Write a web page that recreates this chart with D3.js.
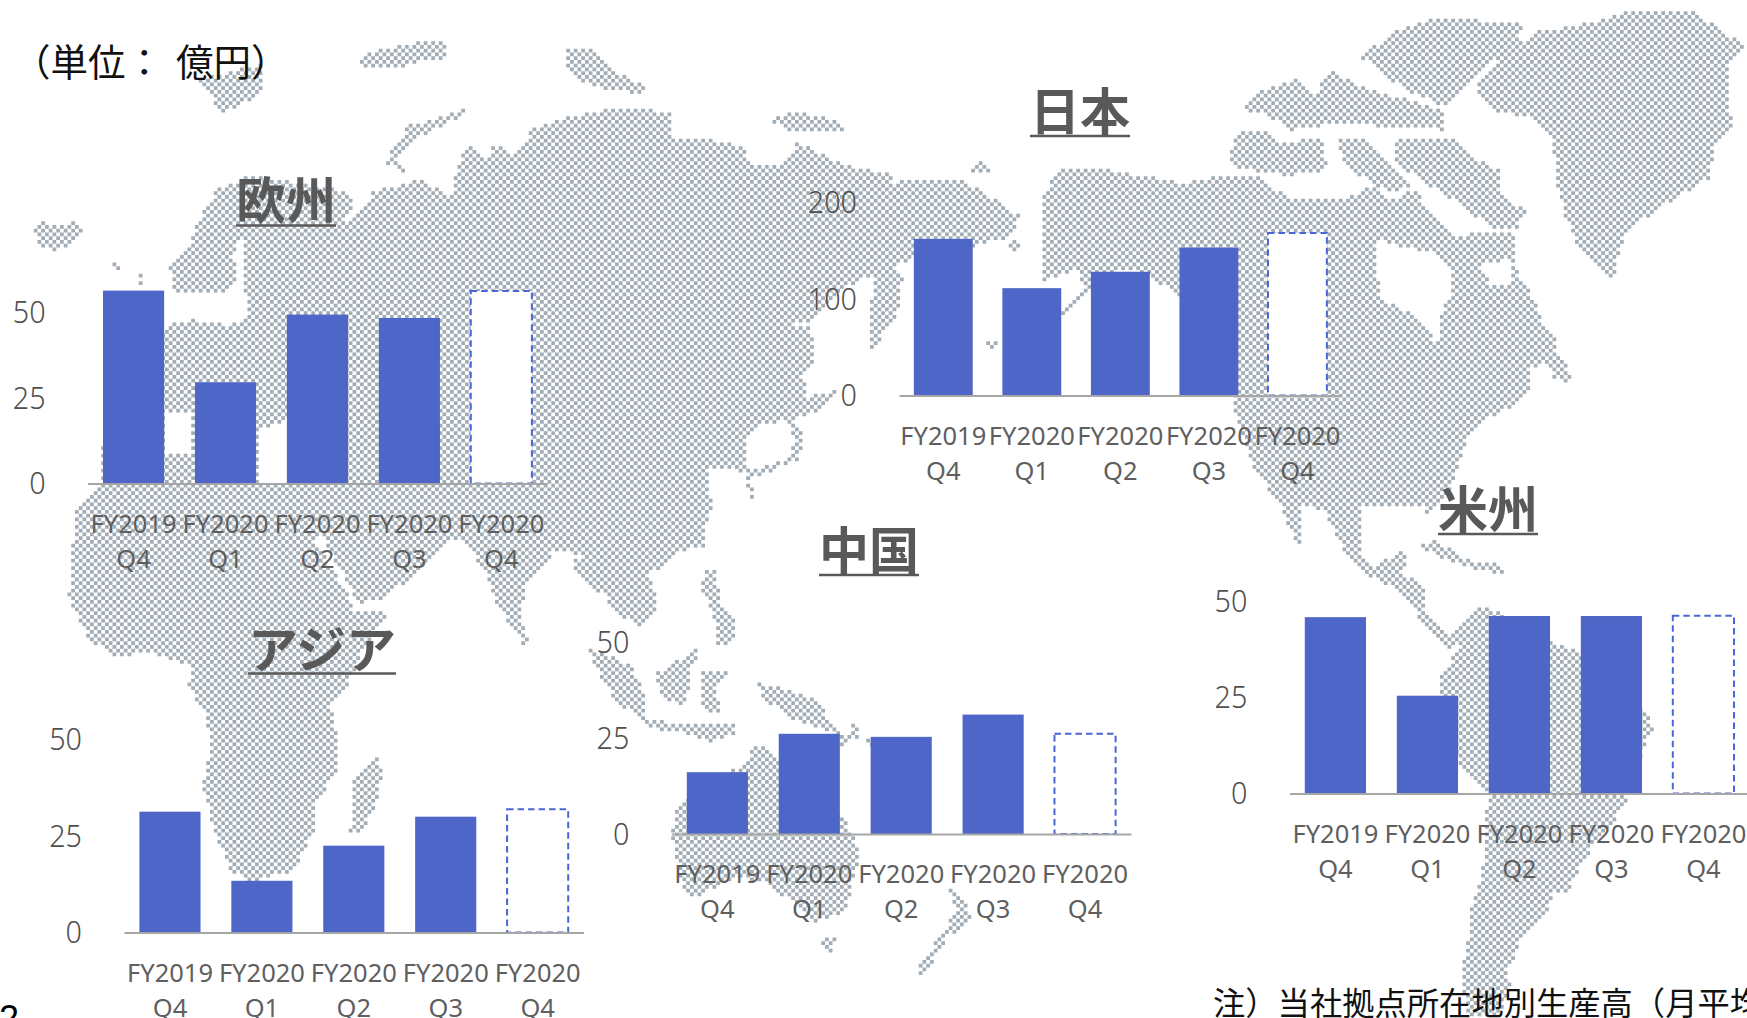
<!DOCTYPE html>
<html lang="ja">
<head>
<meta charset="utf-8">
<title>地域別生産高</title>
<script src="https://d3js.org/d3.v7.min.js"></script>
<style>
  html, body { margin: 0; padding: 0; background: #fff; overflow: hidden; }
  svg { display: block; }
  .jp { font-family: "Noto Sans CJK JP", sans-serif; }
  .axis text { font-family: "Noto Sans", sans-serif; font-weight: 400; fill: #5f5f5f; }
  .axis path { stroke: #a6a6a6; stroke-width: 2px; }
  .title { font-family: "Noto Sans CJK JP", sans-serif; font-weight: 700; fill: #595959; }
</style>
</head>
<body>
<div id="chart"></div>
<script>
// Quarters, same on every panel
var quarters = ["FY2019 Q4", "FY2020 Q1", "FY2020 Q2", "FY2020 Q3", "FY2020 Q4"];

// Values in 億円. The last one of each is the dashed bar.
var europeValues = [56.4, 29.6, 49.4, 48.4, 56.3];
var japanValues = [162, 111, 128, 153, 168];
var asiaValues = [31.3, 13.4, 22.5, 30, 31.9];
var chinaValues = [16.1, 26.1, 25.3, 31.1, 26.1];
var americasValues = [45.8, 25.4, 46.1, 46.1, 46.2];

var smallTicks = [0, 25, 50];
var japanTicks = [0, 100, 200];

// Where each panel sits on the slide: axis left/right, baseline, pixels from 0 to the top tick
var panels = [
    {name: "欧州", values: europeValues, ticks: smallTicks, x0: 87.6, x1: 547.3, base: 483.5, tall: 171, tx: 286, ty: 219, ux0: 236, ux1: 336, uy: 225.5},
    {name: "日本", values: japanValues, ticks: japanTicks, x0: 899, x1: 1341.7, base: 395.5, tall: 193.4, tx: 1080, ty: 130, ux0: 1030, ux1: 1130, uy: 136},
    {name: "アジア", values: asiaValues, ticks: smallTicks, x0: 124, x1: 583.6, base: 932.5, tall: 193, tx: 322, ty: 668, ux0: 248, ux1: 396, uy: 673.5},
    {name: "中国", values: chinaValues, ticks: smallTicks, x0: 671.4, x1: 1131, base: 834, tall: 192, tx: 869, ty: 569, ux0: 819, ux1: 919, uy: 575},
    {name: "米州", values: americasValues, ticks: smallTicks, x0: 1289.4, x1: 1749.4, base: 793.5, tall: 192.5, tx: 1488, ty: 527.5, ux0: 1438, ux1: 1538, uy: 534}
];

// Background world map outlines, traced by hand in slide pixels
var mapLand = [
    // Iceland
    [[32,228],[45,222],[62,226],[76,220],[85,232],[72,245],[55,252],[40,245]],
    // arctic bits over Europe
    [[354,60],[380,50],[405,45],[420,42],[448,40],[446,58],[420,62],[395,68],[365,66]],
    [[264,63],[197,80],[222,112],[260,97]],
    [[465,107],[440,118],[410,125],[395,145],[385,163],[410,175],[395,160],[415,140],[440,127],[465,115]],
    [[565,50],[590,47],[610,70],[645,85],[645,93],[610,90],[580,80],[565,70]],
    [[771,120],[795,110],[825,118],[845,125],[847,132],[815,130],[785,130]],
    [[970,170],[980,160],[991,165],[990,172],[975,173]],
    // UK specks
    [[113,263],[118,263],[119,270],[114,269]],
    [[137,273],[143,274],[143,284],[137,282]],
    // Scandinavia and Kola
    [[170,262],[187,247],[208,203],[218,190],[249,175],[300,183],[337,190],[352,197],[352,213],[340,222],[310,228],[260,228],[245,230],[233,253],[237,283],[226,293],[195,293],[172,290]],
    // Eurasia and Africa
    [[245,226],[300,224],[352,222],[373,192],[421,180],[455,197],[455,173],[463,150],[475,145],[486,157],[494,145],[513,153],[536,127],[570,117],[620,107],[671,113],[673,137],[715,140],[746,147],[750,165],[788,163],[796,140],[811,150],[845,165],[888,173],[893,182],[953,178],[976,187],[995,200],[1022,217],[1006,238],[960,250],[900,262],[865,277],[838,293],[807,323],[779,322],[811,328],[815,363],[803,373],[807,397],[838,390],[819,410],[792,420],[803,433],[800,460],[765,473],[750,480],[756,497],[750,500],[746,473],[731,467],[708,467],[712,510],[704,535],[708,548],[680,550],[650,575],[658,605],[639,628],[612,608],[604,595],[585,585],[570,561],[600,553],[582,555],[555,551],[528,581],[520,611],[530,643],[524,645],[513,631],[494,598],[486,575],[471,551],[455,538],[445,545],[432,558],[420,572],[383,598],[357,605],[352,590],[335,560],[322,535],[314,538],[329,565],[349,595],[355,612],[387,610],[385,618],[362,650],[352,678],[331,708],[339,741],[339,768],[314,805],[316,825],[295,871],[253,881],[230,871],[214,828],[203,785],[210,748],[207,715],[189,688],[191,665],[149,651],[115,658],[88,638],[69,598],[71,548],[77,525],[75,510],[101,483],[101,450],[150,350],[165,333],[166,325],[190,320],[225,325],[248,320],[245,285]],
    // Madagascar
    [[377,756],[383,775],[377,801],[360,838],[350,831],[354,781]],
    // Sakhalin and Japan
    [[875,270],[890,262],[903,277],[899,310],[882,337],[872,350],[868,330],[872,300]],
    [[985,342],[998,342],[998,348],[985,348]],
    [[1006,245],[1015,240],[1025,248],[1012,252]],
    // Indonesia, Philippines, New Guinea
    [[589,648],[631,665],[646,698],[643,721],[616,701],[593,665]],
    [[643,718],[690,725],[735,723],[735,733],[710,741],[680,732],[645,728]],
    [[654,675],[700,648],[692,668],[685,705],[662,698]],
    [[702,672],[730,670],[715,685],[720,712],[705,712],[700,690]],
    [[704,571],[716,571],[720,600],[734,620],[733,645],[718,645],[715,620],[702,590]],
    [[754,681],[815,698],[834,725],[845,738],[788,718],[761,695]],
    [[850,720],[858,725],[857,738],[840,748],[838,744],[851,735]],
    [[864,740],[868,738],[892,762],[888,766]],
    [[1071,546],[1076,545],[1097,566],[1094,568]],
    // Australia, Tasmania, New Zealand
    [[750,748],[765,748],[838,808],[861,851],[845,911],[815,921],[769,885],[738,875],[696,898],[681,885],[671,833],[677,808],[727,771],[746,765]],
    [[819,938],[838,935],[830,955]],
    [[949,891],[955,889],[972,915],[945,941],[922,981],[916,971],[941,935],[957,911]],
    // North America
    [[1041,197],[1060,170],[1106,170],[1147,177],[1185,183],[1220,175],[1262,177],[1273,190],[1300,200],[1346,200],[1369,185],[1392,200],[1415,190],[1434,215],[1450,235],[1514,233],[1518,280],[1530,290],[1541,320],[1556,340],[1553,357],[1530,370],[1530,390],[1510,407],[1484,420],[1465,443],[1457,467],[1449,493],[1435,505],[1428,520],[1422,505],[1361,508],[1361,551],[1377,568],[1396,551],[1407,551],[1403,575],[1426,585],[1424,608],[1449,635],[1461,625],[1476,606],[1491,608],[1553,643],[1577,651],[1642,708],[1654,725],[1644,748],[1629,795],[1625,808],[1595,841],[1568,891],[1553,891],[1549,915],[1526,931],[1514,958],[1507,975],[1510,985],[1499,1018],[1468,1018],[1461,975],[1468,941],[1472,905],[1482,875],[1486,825],[1488,791],[1461,771],[1438,681],[1453,658],[1461,640],[1449,648],[1424,622],[1390,585],[1372,578],[1345,555],[1325,510],[1300,505],[1302,545],[1295,540],[1281,508],[1269,490],[1250,460],[1233,407],[1233,380],[1200,320],[1178,295],[1150,277],[1125,268],[1090,292],[1064,317],[1060,312],[1085,285],[1075,270],[1044,280],[1041,253],[1044,213]],
    // Arctic islands
    [[1361,57],[1392,33],[1438,18],[1522,23],[1518,43],[1484,70],[1472,80],[1445,107],[1407,90],[1377,70]],
    [[1241,110],[1258,93],[1300,77],[1315,100],[1327,70],[1361,87],[1445,110],[1445,130],[1338,123],[1292,130],[1262,113]],
    [[1229,157],[1239,130],[1269,130],[1281,143],[1323,137],[1327,170],[1290,175],[1262,173],[1235,167]],
    [[1396,137],[1457,140],[1476,160],[1499,170],[1503,197],[1530,213],[1514,230],[1491,227],[1453,200],[1415,177],[1396,160]],
    [[1338,140],[1365,137],[1384,160],[1411,187],[1392,193],[1361,177],[1342,157]],
    // Newfoundland and Caribbean
    [[1541,358],[1555,350],[1570,372],[1570,383],[1555,378]],
    [[1415,545],[1437,540],[1465,560],[1500,565],[1507,575],[1475,570],[1445,560]],
    // Greenland
    [[1476,87],[1503,53],[1537,32],[1587,23],[1637,10],[1694,10],[1710,23],[1747,47],[1729,63],[1731,127],[1713,150],[1711,177],[1656,210],[1625,233],[1614,277],[1602,275],[1576,243],[1564,213],[1556,177],[1553,140],[1530,117],[1491,110],[1476,93]]
];

// Water inside the land shapes
var mapWater = [
    [[1377,240],[1440,255],[1450,270],[1453,293],[1442,310],[1437,345],[1420,318],[1382,300],[1377,270]],
    [[1480,262],[1512,260],[1512,285],[1490,285]],
    [[165,413],[191,413],[191,453],[165,453]],
    [[257,432],[287,420],[287,483],[257,483]],
    [[772,425],[785,420],[795,440],[790,458],[760,468],[745,470],[746,438],[760,422]]
];

var width = 1747, height = 1018;

var svg = d3.select("#chart").append("svg")
    .attr("width", width)
    .attr("height", height);

// The map is a checkerboard: keep every other cell whose centre falls on land,
// so the coast comes out stepped like the original dot map
var cell = 3.75;
function inside(shapes, px, py) {
    return shapes.some(function(s) { return d3.polygonContains(s, [px, py]); });
}
var cells = "";
d3.range(Math.ceil(height / cell)).forEach(function(row) {
    d3.range(Math.ceil(width / cell)).forEach(function(col) {
        if ((row + col) % 2) return;
        var px = col * cell, py = row * cell;
        var cx = px + cell / 2, cy = py + cell / 2;
        if (inside(mapLand, cx, cy) && !inside(mapWater, cx, cy)) {
            cells += "M" + px + " " + py + "h" + cell + "v" + cell + "h-" + cell + "z";
        }
    });
});
svg.append("path")
    .attr("d", cells)
    .attr("fill", "#a3adb6");

panels.forEach(function(p) {
    var x = d3.scaleBand()
        .domain(quarters)
        .range([p.x0, p.x1])
        .paddingInner(0.335)
        .paddingOuter(0.1675);

    var top = p.ticks[p.ticks.length - 1];
    var y = d3.scaleLinear()
        .domain([0, top])
        .range([p.base, p.base - p.tall]);

    var g = svg.append("g");

    // Actual quarters are solid, the last one is the dashed plan bar
    g.selectAll("rect")
        .data(p.values)
        .enter().append("rect")
        .attr("x", function(d, i) { return x(quarters[i]); })
        .attr("y", function(d) { return y(d); })
        .attr("width", x.bandwidth())
        .attr("height", function(d) { return p.base - y(d); })
        .attr("fill", function(d, i) { return i == quarters.length - 1 ? "#fff" : "#4e66c7"; })
        .attr("stroke", function(d, i) { return i == quarters.length - 1 ? "#4a66d4" : "none"; })
        .attr("stroke-width", 2)
        .attr("stroke-dasharray", "6.5 4");

    // Y axis, labels only
    var yAxis = g.append("g")
        .attr("class", "axis")
        .attr("transform", "translate(" + p.x0 + ",0)")
        .call(d3.axisLeft(y).tickValues(p.ticks).tickSize(0).tickPadding(42));
    yAxis.select(".domain").remove();
    yAxis.selectAll("text")
        .style("font-size", "32px")
        .style("font-weight", 300)
        .style("fill", "#505050")
        .attr("textLength", function(d) { return String(d).length * 16.4; })
        .attr("lengthAdjust", "spacingAndGlyphs");

    // X axis, two line labels
    var xAxis = g.append("g")
        .attr("class", "axis")
        .attr("transform", "translate(0," + p.base + ")")
        .call(d3.axisBottom(x).tickSizeOuter(0).tickSize(0));
    xAxis.selectAll("text").each(function(d) {
        var parts = d.split(" ");
        var label = d3.select(this).text(null).attr("y", 0).attr("dy", null).style("font-size", "25.5px");
        label.append("tspan").attr("x", 0).attr("y", 49).text(parts[0]);
        label.append("tspan").attr("x", 0).attr("y", 84).text(parts[1]);
    });

    // Region title with its underline
    g.append("text")
        .attr("class", "title")
        .attr("x", p.tx)
        .attr("y", p.ty)
        .attr("text-anchor", "middle")
        .style("font-size", "50px")
        .text(p.name);
    g.append("line")
        .attr("x1", p.ux0)
        .attr("x2", p.ux1)
        .attr("y1", p.uy)
        .attr("y2", p.uy)
        .attr("stroke", "#595959")
        .attr("stroke-width", 2.6);
});

// Unit label, note and the slide number cut off by the page edge
svg.append("text")
    .attr("class", "jp")
    .attr("x", 13)
    .attr("y", 76)
    .attr("fill", "#111")
    .style("font-size", "37.5px")
    .text("（単位：")
    .append("tspan").attr("x", 176).text("億円）");

svg.append("text")
    .attr("class", "jp")
    .attr("x", 1213)
    .attr("y", 1015)
    .attr("fill", "#111")
    .style("font-size", "32.3px")
    .text("注）当社拠点所在地別生産高（月平均");

svg.append("text")
    .attr("x", -1)
    .attr("y", 1031)
    .attr("fill", "#000")
    .style("font-family", "'Liberation Sans', sans-serif")
    .style("font-size", "36px")
    .text("2");
</script>
</body>
</html>
